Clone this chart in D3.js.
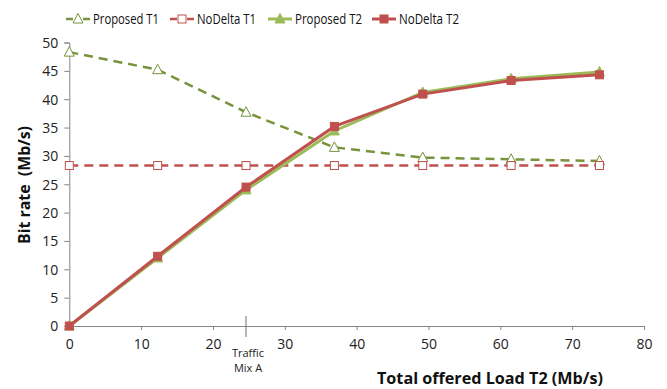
<!DOCTYPE html>
<html><head><meta charset="utf-8">
<script src="https://cdn.jsdelivr.net/npm/d3@7"></script>
<style>body{margin:0;background:#fff}svg{display:block}</style>
</head><body>
<svg id="c" width="667" height="389"></svg>
<script>
const loads = [0, 12.3, 24.6, 36.9, 49.2, 61.5, 73.8];
const proposedT1 = [48.3, 45.2, 37.7, 31.5, 29.7, 29.4, 29.1];
const noDeltaT1 = [28.3, 28.3, 28.3, 28.3, 28.3, 28.3, 28.3];
const proposedT2 = [0, 12.0, 24.0, 34.4, 41.2, 43.6, 44.8];
const noDeltaT2 = [0, 12.3, 24.5, 35.2, 40.9, 43.3, 44.3];
const xTicks = [0, 10, 20, 30, 40, 50, 60, 70, 80];
const yTicks = [0, 5, 10, 15, 20, 25, 30, 35, 40, 45, 50];
const markerX = 24.6;
const markerLabel = ["Traffic", "Mix A"];

const font = "'Open Sans', 'Noto Sans', sans-serif";
const svg = d3.select("#c");
const x = d3.scaleLinear().domain([0, 80]).range([69.3, 644]);
const y = d3.scaleLinear().domain([0, 50]).range([326, 42.5]);
const axisCol = "#868686";

// axes
const xa = svg.append("g").attr("transform", `translate(0,${y(0)})`)
  .call(d3.axisBottom(x).tickValues(xTicks).tickSize(4).tickPadding(6));
const ya = svg.append("g").attr("transform", `translate(${x(0)},0)`)
  .call(d3.axisLeft(y).tickValues(yTicks).tickSize(5).tickPadding(6));
[xa, ya].forEach(a => {
  a.select(".domain").attr("stroke", axisCol).attr("stroke-width", 1);
  a.selectAll(".tick line").attr("stroke", axisCol);
  a.selectAll(".tick text").attr("fill", "#222").style("font-family", font).style("font-size", "14px");
});
xa.selectAll(".tick text").attr("dy", "0.9em");
ya.selectAll(".tick text").attr("dy", "0.35em");

// traffic mix marker
svg.append("line").attr("x1", x(markerX)).attr("x2", x(markerX))
  .attr("y1", y(0) - 10).attr("y2", y(0) + 11).attr("stroke", axisCol).attr("stroke-width", 1.2);
svg.append("text").attr("x", x(markerX) + 2).attr("y", 357).attr("text-anchor", "middle")
  .style("font-family", font).style("font-size", "11px").attr("fill", "#222")
  .selectAll("tspan").data(markerLabel).join("tspan")
  .attr("x", x(markerX) + 2).attr("dy", (d, i) => i ? 15 : 0).text(d => d);

// titles
svg.append("text").attr("x", 490).attr("y", 384).attr("text-anchor", "middle")
  .style("font-family", font).style("font-size", "16px").style("font-weight", "bold").attr("fill", "#111")
  .attr("textLength", 226).attr("lengthAdjust", "spacingAndGlyphs")
  .text("Total offered Load T2 (Mb/s)");
svg.append("text").attr("transform", `translate(30,185) rotate(-90)`).attr("text-anchor", "middle")
  .style("font-family", font).style("font-size", "16px").style("font-weight", "bold").attr("fill", "#111")
  .attr("xml:space", "preserve").attr("textLength", 118).attr("lengthAdjust", "spacingAndGlyphs")
  .text("Bit rate  (Mb/s)");

const green = "#77933C", lgreen = "#9BBB59", red = "#C0504D";
const series = [
  {name: "Proposed T1", vals: proposedT1, color: green, dash: "9,6", w: 2.5, shape: "tri", fill: false},
  {name: "NoDelta T1", vals: noDeltaT1, color: red, dash: "9,6", w: 2.5, shape: "sq", fill: false},
  {name: "Proposed T2", vals: proposedT2, color: lgreen, dash: null, w: 3, shape: "tri", fill: true},
  {name: "NoDelta T2", vals: noDeltaT2, color: red, dash: null, w: 3, shape: "sq", fill: true},
];
const line = d3.line().x(d => x(d[0])).y(d => y(d[1]));
function marker(g, shape, cx, cy) {
  if (shape === "tri") {
    return g.append("path").attr("d", `M${cx},${cy - 5.5}L${cx + 5},${cy + 4}L${cx - 5},${cy + 4}Z`);
  }
  return g.append("rect").attr("x", cx - 4).attr("y", cy - 4).attr("width", 8).attr("height", 8);
}
series.forEach(s => {
  const pts = loads.map((l, i) => [l, s.vals[i]]);
  svg.append("path").attr("d", line(pts)).attr("fill", "none").attr("stroke", s.color)
    .attr("stroke-width", s.w).attr("stroke-dasharray", s.dash);
  const g = svg.append("g");
  pts.forEach(p => {
    marker(g, s.shape, x(p[0]), y(p[1]))
      .attr("fill", s.fill ? s.color : "#fff").attr("stroke", s.color).attr("stroke-width", 1);
  });
});

// legend
const legX = [66, 170, 268, 372];
const legTextW = [66, 59, 67, 60];
series.forEach((s, i) => {
  const g = svg.append("g").attr("transform", `translate(${legX[i]},19)`);
  g.append("line").attr("x1", 0).attr("x2", 24).attr("y1", 0).attr("y2", 0)
    .attr("stroke", s.color).attr("stroke-width", s.w)
    .attr("stroke-dasharray", s.dash ? "7,10" : null);
  marker(g, s.shape, 12, 0).attr("fill", s.fill ? s.color : "#fff").attr("stroke", s.color);
  g.append("text").attr("x", 27).attr("y", 0).attr("dy", "0.35em")
    .style("font-family", font).style("font-size", "14px").attr("fill", "#111")
    .attr("textLength", legTextW[i]).attr("lengthAdjust", "spacingAndGlyphs").text(s.name);
});
</script>
</body></html>
